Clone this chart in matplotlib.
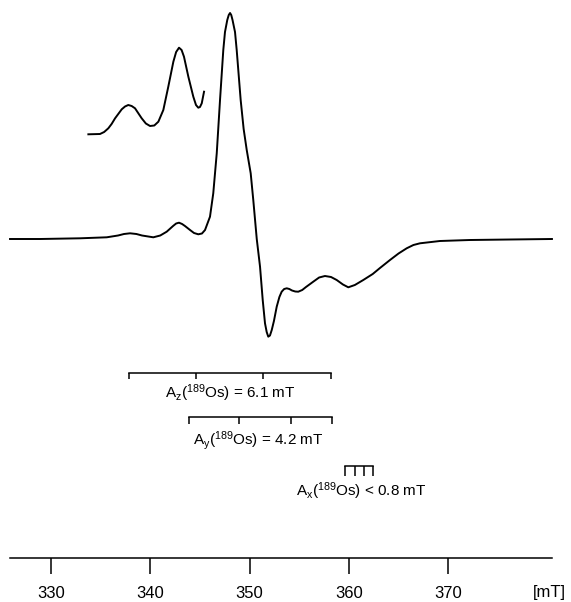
import matplotlib
matplotlib.use('Agg')
import matplotlib.pyplot as plt

plt.rcParams['font.family'] = ['Liberation Sans', 'DejaVu Sans']
plt.rcParams['mathtext.fontset'] = 'custom'
plt.rcParams['mathtext.rm'] = 'Liberation Sans'
plt.rcParams['mathtext.it'] = 'Liberation Sans'
plt.rcParams['mathtext.default'] = 'regular'

# EPR spectrum, field in mT, signal in arbitrary units (baseline = 0)
field = [325.87, 328.89, 332.92, 335.61, 336.75, 337.35, 337.96, 338.60, 339.16, 340.30,
         341.00, 341.65, 342.29, 342.60, 342.89, 343.20, 343.49, 344.00, 344.40, 344.83,
         345.20, 345.51, 346.01, 346.34, 346.69, 347.02, 347.35, 347.52, 347.75, 347.90,
         348.03, 348.15, 348.28, 348.53, 348.70, 349.10, 349.40, 349.71, 350.11, 350.37,
         350.72, 351.05, 351.32, 351.55, 351.72, 351.88, 352.05, 352.23, 352.45, 352.73,
         353.00, 353.23, 353.48, 353.74, 354.00, 354.27, 354.60, 354.90, 355.30, 355.68,
         356.41, 357.00, 357.59, 358.20, 358.77, 359.40, 359.94, 360.60, 361.45, 362.40,
         363.13, 364.14, 365.00, 365.82, 366.50, 367.16, 369.17, 372.19, 376.22, 380.45]
signal = [0, 0, 0.7, 1.7, 3.5, 5, 5.7, 5, 3.5, 1.7,
          3.5, 7.3, 13, 15.5, 16.3, 15, 13, 9, 6, 4.7,
          5.5, 9, 22.3, 45.7, 85.7, 139, 189, 207, 219, 224,
          226, 224, 219, 207, 189, 139, 110, 89, 65.7, 39,
          0, -27.7, -61, -84.3, -93, -97.7, -96.5, -91, -82, -67.7,
          -58, -52.7, -50, -49.3, -50, -51.5, -52.5, -52.7, -51, -48,
          -42.7, -38.5, -37, -38, -41, -45.5, -48.3, -46, -41, -35,
          -29, -21, -14.5, -9.3, -6, -4.3, -2, -1, -0.5, 0]

# enlarged low-field part (offset upwards)
inset_field = [333.76, 334.93, 335.35, 335.77, 336.10, 336.45, 337.12, 337.45, 337.78, 338.12,
               338.46, 339.13, 339.55, 339.97, 340.40, 340.81, 341.31, 341.81, 342.32, 342.60,
               342.89, 343.15, 343.39, 343.83, 344.33, 344.60, 344.83, 345.00, 345.18, 345.41]
inset_signal = [104.7, 105, 107, 110.7, 115, 120.7, 129.7, 132.5, 134, 133,
                130.7, 120.7, 115.5, 113, 113.5, 117.3, 129, 152.3, 177.3, 187,
                191.3, 189, 182.3, 162.3, 142.3, 134, 131.3, 132, 135.7, 147.3]

# hyperfine stick diagrams: (line positions, bar level, tick drop, label, label x, label y)
sticks = [
    ([337.85, 344.60, 351.38, 358.17], -134, 6, r'A$_z$($^{189}$Os) = 6.1 mT', 348.03, -154),
    ([343.90, 348.96, 354.17, 358.27], -178, 7, r'A$_y$($^{189}$Os) = 4.2 mT', 350.85, -202),
    ([359.61, 360.57, 361.51, 362.38], -227, 10, r'A$_x$($^{189}$Os) < 0.8 mT', 361.22, -252),
]

xticks = [330, 340, 350, 360, 370]

fig = plt.figure(figsize=(5.71, 6.02), dpi=100)
ax = fig.add_axes([0, 0, 1, 1])
ax.set_xlim(324.86, 382.37)
ax.set_ylim(-363, 239)

ax.plot(field, signal, color='black', lw=1.4, solid_joinstyle='round')
ax.plot(inset_field, inset_signal, color='black', lw=1.4, solid_joinstyle='round')

for pos, level, drop, label, lx, ly in sticks:
    ax.plot([pos[0], pos[-1]], [level, level], color='black', lw=1.1)
    ax.vlines(pos, level - drop, level, color='black', lw=1.1)
    ax.text(lx, ly, label, ha='center', va='center', fontsize=11)

# field axis
for s in ['top', 'left', 'right']:
    ax.spines[s].set_visible(False)
ax.spines['bottom'].set_position(('data', -319))
ax.spines['bottom'].set_bounds(325.87, 380.45)
ax.spines['bottom'].set_linewidth(1.1)
ax.set_yticks([])
ax.set_xticks(xticks)
ax.tick_params(axis='x', direction='out', length=11.5, width=1.1, pad=8.5, labelsize=12)
ax.text(380.2, -354, '[mT]', ha='center', va='center', fontsize=12)

fig.savefig('out.png', dpi=100)
